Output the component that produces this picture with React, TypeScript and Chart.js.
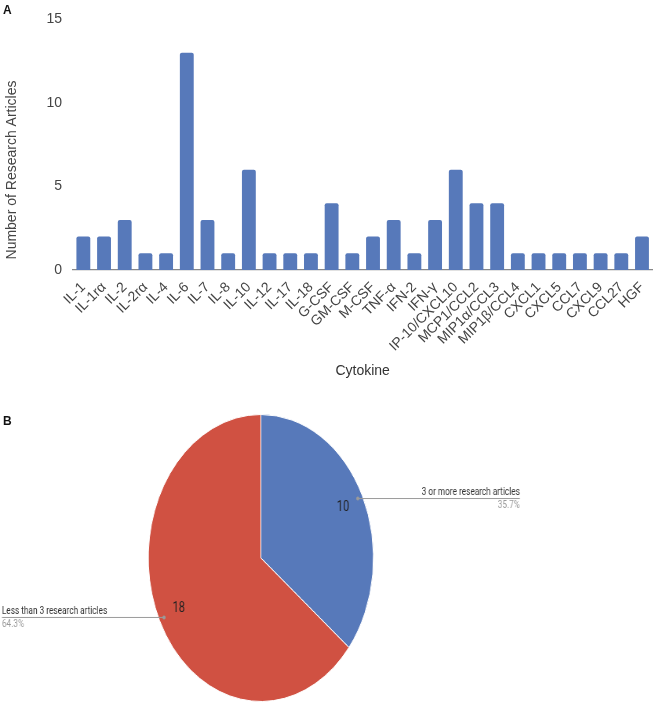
import React, { useEffect, useRef } from "react";
import { Chart, registerables } from "chart.js";

Chart.register(...registerables);

const cytokines = [
  "IL-1", "IL-1rα", "IL-2", "IL-2rα", "IL-4", "IL-6", "IL-7", "IL-8", "IL-10", "IL-12",
  "IL-17", "IL-18", "G-CSF", "GM-CSF", "M-CSF", "TNF-α", "IFN-2", "IFN-γ", "IP-10/CXCL10",
  "MCP1/CCL2", "MIP1α/CCL3", "MIP1β/CCL4", "CXCL1", "CXCL5", "CCL7", "CXCL9", "CCL27", "HGF",
];
const articleCounts = [2, 2, 3, 1, 1, 13, 3, 1, 6, 1, 1, 1, 4, 1, 2, 3, 1, 3, 6, 4, 4, 1, 1, 1, 1, 1, 1, 2];
const yTickValues = [0, 5, 10, 15];
const yAxisTitle = "Number of Research Articles";
const xAxisTitle = "Cytokine";

const pieLabels = ["3 or more research articles", "Less than 3 research articles"];
const pieValues = [10, 18];

const BLUE = "#5779BA";
const RED = "#D05142";
const FONT = "'Liberation Sans', Arial, sans-serif";
const PIE_FONT = "Roboto, 'Liberation Sans', sans-serif";

const PIE_W = 845; // drawn wide then squeezed to 663 by CSS
const PIE_H = 323;

const yTitlePlugin = {
  id: "yTitle",
  afterDraw(chart: any) {
    const ctx = chart.ctx;
    ctx.save();
    ctx.translate(12, 170);
    ctx.rotate(-Math.PI / 2);
    ctx.font = `14px ${FONT}`;
    ctx.fillStyle = "#444";
    ctx.textAlign = "center";
    ctx.textBaseline = "middle";
    ctx.fillText(yAxisTitle, 0, 0);
    ctx.restore();
  },
};

const pieLabelPlugin = {
  id: "pieLabels",
  afterDatasetsDraw(chart: any) {
    const ctx = chart.ctx;
    const meta = chart.getDatasetMeta(0);
    const total = pieValues.reduce((a, b) => a + b, 0);
    meta.data.forEach((arc: any, i: number) => {
      const { x, y, startAngle, endAngle, outerRadius } = arc.getProps(
        ["x", "y", "startAngle", "endAngle", "outerRadius"],
        true
      );
      const mid = (startAngle + endAngle) / 2;
      const c = Math.cos(mid);
      const s = Math.sin(mid);
      const px = x + c * outerRadius * 0.955;
      const py = y + s * outerRadius * 0.955;
      const right = c >= 0;
      const ex = right ? x + 2.3 * outerRadius : x - 2.3 * outerRadius;
      ctx.save();
      ctx.strokeStyle = "#9a9a9a";
      ctx.lineWidth = 1;
      ctx.beginPath();
      ctx.moveTo(px, py);
      ctx.lineTo(ex, py);
      ctx.stroke();
      ctx.fillStyle = "#9a9a9a";
      ctx.beginPath();
      ctx.arc(px, py, 2, 0, Math.PI * 2);
      ctx.fill();
      ctx.font = `10.5px ${PIE_FONT}`;
      ctx.textAlign = right ? "right" : "left";
      ctx.textBaseline = "middle";
      ctx.fillStyle = "#333";
      ctx.fillText(pieLabels[i], ex, py - 6);
      ctx.fillStyle = "#9a9a9a";
      ctx.fillText(((pieValues[i] / total) * 100).toFixed(1) + "%", ex, py + 7);
      ctx.font = `14px ${PIE_FONT}`;
      ctx.textAlign = "center";
      ctx.fillStyle = "#222";
      ctx.fillText(String(pieValues[i]), x + c * outerRadius * 0.81, y + s * outerRadius * 0.81);
      ctx.restore();
    });
  },
};

export default function App() {
  const barRef = useRef<HTMLCanvasElement>(null);
  const pieRef = useRef<HTMLCanvasElement>(null);

  useEffect(() => {
    const bar = new Chart(barRef.current as HTMLCanvasElement, {
      type: "bar",
      data: {
        labels: cytokines,
        datasets: [
          {
            data: articleCounts,
            backgroundColor: BLUE,
            borderRadius: 2,
            barPercentage: 0.67,
            categoryPercentage: 1,
          },
        ],
      },
      options: {
        responsive: false,
        animation: false,
        devicePixelRatio: 1,
        layout: { padding: { top: 6, right: 7.5, left: 0, bottom: 0 } },
        plugins: { legend: { display: false }, tooltip: { enabled: false } },
        scales: {
          x: {
            grid: { display: false, drawTicks: false },
            border: { display: true, color: "#888", width: 1.2 },
            ticks: {
              autoSkip: false,
              minRotation: 45,
              maxRotation: 45,
              padding: 9,
              color: "#444",
              font: { family: FONT, size: 14 },
            },
            title: {
              display: true,
              text: xAxisTitle,
              color: "#333",
              font: { family: FONT, size: 14 },
              padding: { top: 0, bottom: 0 },
            },
            afterFit(scale: any) {
              scale.height = 110;
            },
          },
          y: {
            min: 0,
            max: 15,
            grid: { display: false, drawTicks: false },
            border: { display: false },
            afterBuildTicks(scale: any) {
              scale.ticks = yTickValues.map((v) => ({ value: v }));
            },
            ticks: {
              padding: 11,
              color: "#444",
              font: { family: FONT, size: 14 },
            },
            afterFit(scale: any) {
              scale.width = 73;
            },
          },
        },
      },
      plugins: [yTitlePlugin],
    });

    const pie = new Chart(pieRef.current as HTMLCanvasElement, {
      type: "pie",
      data: {
        labels: pieLabels,
        datasets: [
          {
            data: pieValues,
            backgroundColor: [BLUE, RED],
            borderColor: "#ffffff",
            borderWidth: 1,
          },
        ],
      },
      options: {
        responsive: false,
        animation: false,
        devicePixelRatio: 1,
        layout: { padding: { left: 188.5, right: 368.5, top: 34, bottom: 1 } },
        plugins: { legend: { display: false }, tooltip: { enabled: false } },
      },
      plugins: [pieLabelPlugin],
    });

    return () => {
      bar.destroy();
      pie.destroy();
    };
  }, []);

  return (
    <div
      style={{
        position: "fixed",
        left: 0,
        top: 0,
        width: 663,
        height: 703,
        background: "#fff",
        overflow: "hidden",
      }}
    >
      <canvas
        ref={barRef}
        width={663}
        height={380}
        style={{ position: "absolute", left: 0, top: 0, width: "663px", height: "380px" }}
      />
      <canvas
        ref={pieRef}
        width={PIE_W}
        height={PIE_H}
        style={{ position: "absolute", left: 0, top: 380, width: "663px", height: `${PIE_H}px` }}
      />
      <div
        style={{
          position: "absolute",
          left: 3,
          top: 3,
          font: `bold 12px ${FONT}`,
          color: "#111",
        }}
      >
        A
      </div>
      <div
        style={{
          position: "absolute",
          left: 3,
          top: 414,
          font: `bold 12px ${FONT}`,
          color: "#111",
        }}
      >
        B
      </div>
    </div>
  );
}
